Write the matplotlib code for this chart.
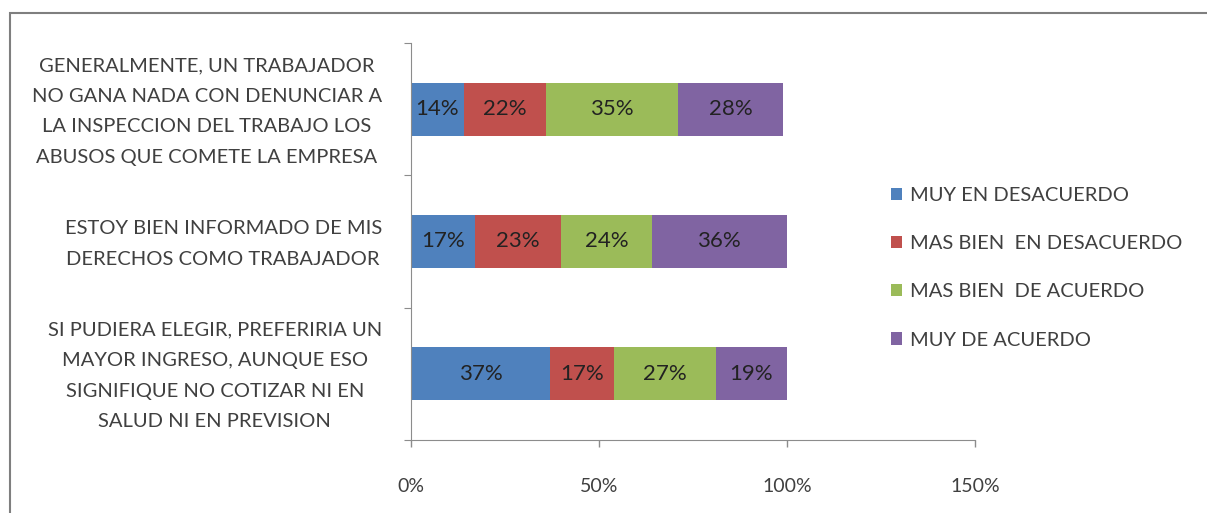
import numpy as np
import matplotlib
matplotlib.use('Agg')
import matplotlib.pyplot as plt
from matplotlib.patches import Rectangle
from matplotlib.transforms import ScaledTranslation

# Datos (de arriba hacia abajo)
preguntas = [
    'GENERALMENTE, UN TRABAJADOR\nNO GANA NADA CON DENUNCIAR A\nLA INSPECCION DEL TRABAJO LOS\nABUSOS QUE COMETE LA EMPRESA',
    'ESTOY BIEN INFORMADO DE MIS\nDERECHOS COMO TRABAJADOR',
    'SI PUDIERA ELEGIR, PREFERIRIA UN\nMAYOR INGRESO, AUNQUE ESO\nSIGNIFIQUE NO COTIZAR NI EN\nSALUD NI EN PREVISION',
]
respuestas = ['MUY EN DESACUERDO', 'MAS BIEN  EN DESACUERDO',
              'MAS BIEN  DE ACUERDO', 'MUY DE ACUERDO']
muy_desacuerdo = [14, 17, 37]
bien_desacuerdo = [22, 23, 17]
bien_acuerdo = [35, 24, 27]
muy_acuerdo = [28, 36, 19]
colores = ['#4F81BD', '#C0504D', '#9BBB59', '#8064A2']
xticks = [0, 50, 100, 150]

plt.rcParams['font.family'] = ['Lato', 'DejaVu Sans']
gris = '#404040'

fig = plt.figure(figsize=(12.07, 5.13), dpi=100)
ax = fig.add_axes([0.3405, 0.1423, 0.4673, 0.774])

series = [muy_desacuerdo, bien_desacuerdo, bien_acuerdo, muy_acuerdo]
y = np.arange(len(preguntas))
left = np.zeros(len(preguntas))
for vals, col, nombre in zip(series, colores, respuestas):
    vals = np.array(vals, dtype=float)
    ax.barh(y, vals, left=left, height=0.4, color=col, label=nombre)
    for yi, l, v in zip(y, left, vals):
        ax.text(l + v / 2, yi, '%d%%' % v, ha='center', va='center',
                fontsize=16, color='#222222')
    left += vals

ax.set_xlim(0, 150)
ax.set_ylim(len(preguntas) - 0.5, -0.5)
ax.set_xticks(xticks)
ax.set_xticklabels(['%d%%' % t for t in xticks], fontsize=14, color=gris)
ax.tick_params(axis='x', length=5, width=1, color='#8c8c8c', pad=22, direction='out')

ax.set_yticks(np.arange(-0.5, len(preguntas), 1))
ax.set_yticklabels([])
ax.set_yticks(y, minor=True)
ax.set_yticklabels(preguntas, minor=True, fontsize=14.5, color=gris,
                   multialignment='center', linespacing=1.97)
ax.tick_params(axis='y', which='major', length=5, color='#8c8c8c')
ax.tick_params(axis='y', which='minor', length=0, pad=21)
# subir un poco las etiquetas para centrarlas con las barras
for lbl in ax.get_yticklabels(minor=True):
    lbl.set_transform(lbl.get_transform() + ScaledTranslation(0, 6 / 100, fig.dpi_scale_trans))

for s in ['top', 'right']:
    ax.spines[s].set_visible(False)
ax.spines['left'].set_color('#8c8c8c')
ax.spines['bottom'].set_color('#8c8c8c')

fig.legend(loc='center left', bbox_to_anchor=(0.7235, 0.478), frameon=False,
           fontsize=14.5, labelcolor=gris, handlelength=0.55, handleheight=0.55,
           handletextpad=0.35, labelspacing=1.55)

fig.patches.append(Rectangle((10 / 1207, -0.1), 1.2, 1 - 13 / 513 + 0.1,
                             transform=fig.transFigure, fill=False,
                             edgecolor='#7f7f7f', linewidth=1.5))

plt.savefig('out.png', dpi=100)
